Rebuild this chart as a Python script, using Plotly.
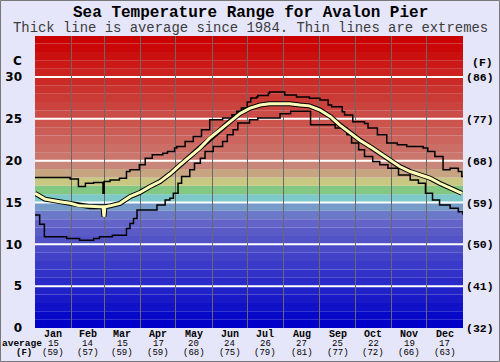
import plotly.graph_objects as go

# ---------------- data ----------------
months = ["Jan", "Feb", "Mar", "Apr", "May", "Jun", "Jul", "Aug", "Sep", "Oct", "Nov", "Dec"]
month_days = [31, 28, 31, 30, 31, 30, 31, 31, 30, 31, 30, 31]
avg_c_label = ["15", "14", "15", "17", "20", "24", "26", "27", "25", "22", "19", "17"]
avg_f_label = ["(59)", "(57)", "(59)", "(59)", "(68)", "(75)", "(79)", "(81)", "(77)", "(72)", "(66)", "(63)"]

c_ticks = [0, 5, 10, 15, 20, 25, 30]
f_ticks = ["(32)", "(41)", "(50)", "(59)", "(68)", "(77)", "(86)"]

max_day = [0, 30, 37, 43, 50, 58, 59, 64, 72, 78, 81, 89, 94, 100, 109, 113, 119, 121, 128, 135,
           142, 149, 160, 168, 172, 176, 181, 184, 189, 190, 199, 200, 213, 223, 234, 243, 250,
           253, 262, 264, 271, 281, 284, 292, 300, 309, 317, 331, 335, 341, 348, 354, 361, 364, 365]
max_temp = [18.0, 17.8, 16.9, 17.3, 17.4, 16.1, 17.5, 17.7, 17.9, 18.7, 18.9, 19.5, 20.3, 20.7, 20.9,
            21.1, 21.5, 21.7, 22.3, 22.9, 23.7, 24.9, 25.1, 25.5, 25.9, 26.3, 27.0, 27.5, 27.6, 27.8,
            28.05, 28.2, 27.85, 27.6, 27.45, 27.25, 26.65, 26.45, 25.85, 25.45, 24.65, 24.45, 23.9,
            23.1, 22.1, 21.9, 21.7, 21.5, 21.1, 20.5, 18.9, 19.1, 18.7, 18.1, 18.1]

min_day = [0, 4, 8, 27, 38, 50, 55, 66, 78, 81, 84, 87, 104, 111, 115, 118, 122, 125, 132, 136,
           141, 145, 152, 160, 164, 169, 173, 183, 190, 209, 218, 235, 256, 266, 270, 276, 281,
           288, 294, 301, 310, 320, 327, 333, 339, 345, 354, 361, 365]
min_temp = [13.5, 12.4, 10.9, 10.7, 10.5, 10.7, 10.9, 11.1, 11.9, 12.5, 13.1, 14.1, 14.7, 15.3, 15.5,
            16.1, 17.3, 18.1, 18.9, 19.7, 20.3, 21.1, 21.7, 22.3, 23.1, 23.7, 24.5, 24.9, 25.1, 25.6,
            25.9, 24.3, 23.9, 23.1, 22.1, 21.3, 20.5, 19.9, 19.5, 19.1, 18.3, 17.7, 17.3, 16.1, 15.3,
            14.7, 14.3, 13.9, 13.5]

avg_day = [0, 8.5, 21, 30, 38, 47, 55, 58, 58.8, 59.7, 64, 72.5, 81, 89.5, 98, 106.6, 115, 123.7,
           132, 140.7, 149, 158, 166, 175, 183, 192, 200, 209, 217, 226, 234, 243, 252, 260, 269,
           277, 286, 294, 303, 311, 320, 328, 337, 345, 354, 364]
avg_temp = [16.1, 15.4, 15.1, 14.9, 14.6, 14.5, 14.5, 14.5, 13.3, 14.5, 14.6, 14.9, 15.7, 16.2, 16.9,
            17.5, 18.4, 19.5, 20.5, 21.5, 22.7, 23.7, 24.65, 25.65, 26.25, 26.65, 26.8, 26.8, 26.8,
            26.65, 26.55, 26.05, 25.25, 24.25, 23.25, 22.45, 21.65, 20.9, 20.1, 19.3, 18.7, 18.3,
            17.9, 17.3, 16.7, 16.1]

# ---------------- styling helpers ----------------
W, H = 500, 362
L, R, T, B = 35, 37, 36, 34
YMAX = 34.9


def band_color(i):
    # colour of the 1-degree band [i, i+1]
    special = {14: (118, 155, 200), 15: (125, 200, 200), 16: (130, 200, 130),
               17: (200, 200, 130), 18: (200, 165, 130), 19: (200, 135, 122)}
    if i in special:
        return "rgb(%d,%d,%d)" % special[i]
    if i < 14:
        v = round(i * 108 / 13)
        g = v + (12 if i == 13 else 0)
        return "rgb(%d,%d,200)" % (v, g)
    v = round(118 * (34 - i) / 14)
    return "rgb(%d,%d,%d)" % (203, v, round(v * 0.92))


shapes = []
for i in range(35):
    shapes.append(dict(type="rect", xref="paper", yref="y", x0=0, x1=1, y0=i,
                       y1=min(i + 1, YMAX), fillcolor=band_color(i), line_width=0,
                       layer="below"))
for c in c_ticks[1:]:
    shapes.append(dict(type="line", xref="paper", yref="y", x0=0, x1=1, y0=c, y1=c,
                       line=dict(color="white", width=2), layer="between"))
pw, ph = W - L - R, H - T - B
shapes.append(dict(type="rect", xref="paper", yref="paper",
                   x0=(0.5 - L) / pw, x1=(W - 0.5 - L) / pw,
                   y0=(H - B - (H - 0.5)) / ph, y1=(H - B - 0.5) / ph,
                   line=dict(color="rgb(120,120,120)", width=1), layer="above"))

month_start = [sum(month_days[:k]) for k in range(12)]
month_mid = [month_start[k] + month_days[k] / 2 for k in range(12)]

fig = go.Figure()
fig.add_trace(go.Scatter(x=max_day, y=max_temp, mode="lines", line_shape="hv",
                         line=dict(color="black", width=1.5), hoverinfo="skip"))
fig.add_trace(go.Scatter(x=min_day, y=min_temp, mode="lines", line_shape="hv",
                         line=dict(color="black", width=1.5), hoverinfo="skip"))
fig.add_trace(go.Scatter(x=avg_day, y=avg_temp, mode="lines",
                         line=dict(color="black", width=5), hoverinfo="skip"))
fig.add_trace(go.Scatter(x=avg_day, y=avg_temp, mode="lines",
                         line=dict(color="rgb(255,255,185)", width=3), hoverinfo="skip"))
fig.add_trace(go.Scatter(x=[0], y=[0], yaxis="y2", mode="markers",
                         marker=dict(opacity=0), hoverinfo="skip"))

mono = "Liberation Mono, Courier New, monospace"
cx = (W / 2 - L) / pw


def py(p):
    return (H - B - p) / ph


ann = []
ann.append(dict(text="<b>Sea Temperature Range for Avalon Pier</b>", xref="paper", yref="paper",
                x=cx, y=py(12.5), showarrow=False, borderpad=0,
                font=dict(family=mono, size=16, color="black"), xanchor="center", yanchor="middle"))
ann.append(dict(text="Thick line is average since 1984. Thin lines are extremes", xref="paper",
                yref="paper", x=cx, y=py(28.2), showarrow=False, borderpad=0,
                font=dict(family=mono, size=13.9, color="rgb(60,60,60)"), xanchor="center",
                yanchor="middle"))
ann.append(dict(text="<b>C</b>", xref="paper", yref="paper", x=(17 - L) / pw, y=py(61),
                showarrow=False, font=dict(family="DejaVu Sans", size=12, color="black"),
                xanchor="center", yanchor="middle"))
ann.append(dict(text="<b>(F)</b>", xref="paper", yref="paper", x=(482 - L) / pw, y=py(62),
                showarrow=False, font=dict(family=mono, size=11.5, color="black"),
                xanchor="center", yanchor="middle"))
ann.append(dict(text="<b>average</b>", xref="paper", yref="paper", x=(22 - L) / pw, y=py(343.5),
                showarrow=False, font=dict(family=mono, size=9.5, color="black"),
                xanchor="center", yanchor="middle"))
ann.append(dict(text="<b>(F)</b>", xref="paper", yref="paper", x=(24 - L) / pw, y=py(353),
                showarrow=False, font=dict(family=mono, size=9, color="black"),
                xanchor="center", yanchor="middle"))
for k in range(12):
    ann.append(dict(text="<b>%s</b>" % months[k], x=month_mid[k], xref="x", yref="paper",
                    y=py(334.5), showarrow=False,
                    font=dict(family=mono, size=10, color="black"), yanchor="middle"))
    ann.append(dict(text=avg_c_label[k], x=month_mid[k], xref="x", yref="paper",
                    y=py(343.5), showarrow=False,
                    font=dict(family=mono, size=9, color="black"), yanchor="middle"))
    ann.append(dict(text=avg_f_label[k], x=month_mid[k], xref="x", yref="paper",
                    y=py(353), showarrow=False,
                    font=dict(family=mono, size=9, color="black"), yanchor="middle"))

fig.update_layout(
    width=W, height=H, margin=dict(l=L, r=R, t=T, b=B, pad=0, autoexpand=False),
    paper_bgcolor="rgb(230,230,250)", plot_bgcolor="rgb(230,230,250)",
    showlegend=False, shapes=shapes, annotations=ann,
    xaxis=dict(range=[0, 365], tickvals=month_start[1:], showticklabels=False, ticks="",
               showgrid=True, gridcolor="rgb(105,105,105)", gridwidth=1, zeroline=False,
               showline=False, fixedrange=True, automargin=False),
    yaxis=dict(range=[0, YMAX], tickvals=c_ticks, ticktext=[str(c) for c in c_ticks],
               showgrid=False, zeroline=False, ticks="", ticklabelstandoff=12,
               tickfont=dict(family="DejaVu Sans", size=12, color="black", weight="bold"),
               showline=False, automargin=False),
    yaxis2=dict(range=[0, YMAX], overlaying="y", side="right", tickvals=c_ticks, ticktext=f_ticks,
                showgrid=False, zeroline=False, ticks="", ticklabelstandoff=2,
                tickfont=dict(family=mono, size=11.5, color="black", weight="bold"),
                showline=False, automargin=False),
)

fig.write_html("out.html", config={"displayModeBar": False},
               post_script="document.body.style.margin='0';document.body.style.padding='0';")
